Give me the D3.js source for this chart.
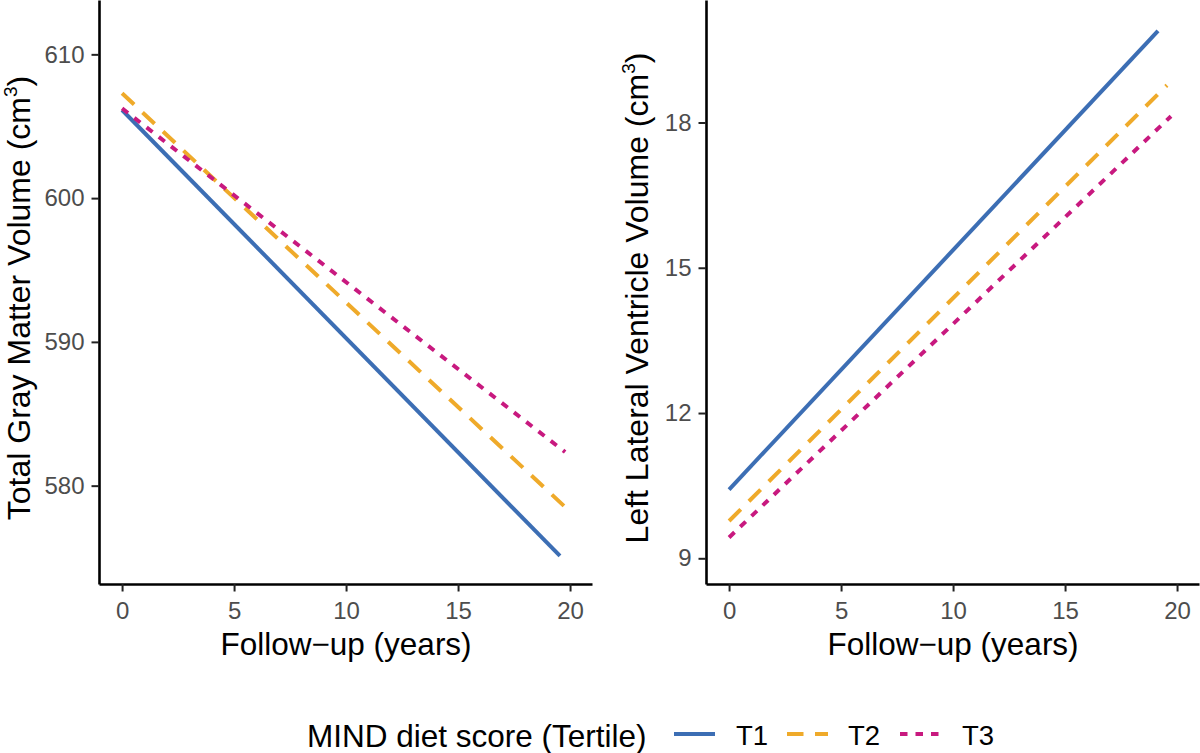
<!DOCTYPE html>
<html>
<head>
<meta charset="utf-8">
<script src="https://cdn.jsdelivr.net/npm/d3@7"></script>
<style>
  body { margin: 0; background: #fff; }
  text { font-family: "Liberation Sans", Arial, sans-serif; }
</style>
</head>
<body>
<div id="viz-container"></div>
<script>
// values
const tertiles = ['T1', 'T2', 'T3'];
const tertileColors = ['#3C6EB4', '#EFAA2A', '#C8197F'];
const tertileDash = ['none', '16.5,11.5', '7.5,8'];

const followStart = [0, 0, 0];
const gmFollowEnd = [19.55, 19.73, 19.78];
const gmStart = [606.13, 607.29, 606.24];
const gmEnd = [575.11, 578.59, 582.34];

const lvFollowEnd = [19.15, 19.55, 19.73];
const lvStart = [10.42, 9.77, 9.43];
const lvEnd = [19.89, 18.77, 18.13];

const xTicks = [0, 5, 10, 15, 20];
const gmTicks = [580, 590, 600, 610];
const lvTicks = [9, 12, 15, 18];

let viz = d3.select('#viz-container')
  .append('svg')
    .attr('width', 1200)
    .attr('height', 753)
;

function series(ends, starts, finishes){
  return tertiles.map((t, i) => ({
    name: t,
    color: tertileColors[i],
    dash: tertileDash[i],
    points: [[followStart[i], starts[i]], [ends[i], finishes[i]]]
  }));
}

function panel(left, yDomain, yTicks, data, titleX, titleMain){
  let x = d3.scaleLinear().domain([-1.03, 20.98]).range([left, left + 493]);
  let y = d3.scaleLinear().domain(yDomain).range([584, 0]);

  let g = viz.append('g');

  let yAxis = g.append('g')
    .attr('transform', 'translate(' + left + ',0)')
    .call(d3.axisLeft(y).tickValues(yTicks).tickSize(7.5).tickSizeOuter(0).tickPadding(7));
  let xAxis = g.append('g')
    .attr('transform', 'translate(0,584)')
    .call(d3.axisBottom(x).tickValues(xTicks).tickSize(7.5).tickSizeOuter(0).tickPadding(10));

  [yAxis, xAxis].forEach(a => {
    a.select('.domain').attr('stroke', '#000').attr('stroke-width', 2.6);
    a.selectAll('.tick line').attr('stroke', '#222').attr('stroke-width', 2);
    a.selectAll('.tick text')
      .attr('fill', '#4D4D4D')
      .attr('font-size', 24)
      .attr('font-family', '"Liberation Sans", Arial, sans-serif');
  });

  let line = d3.line().x(d => x(d[0])).y(d => y(d[1]));
  g.selectAll('path.trend').data(data).enter()
    .append('path')
      .attr('class', 'trend')
      .attr('d', d => line(d.points))
      .attr('fill', 'none')
      .attr('stroke', d => d.color)
      .attr('stroke-width', 4)
      .attr('stroke-dasharray', d => d.dash)
  ;

  // x title
  g.append('text')
    .attr('x', left + 247)
    .attr('y', 655)
    .attr('text-anchor', 'middle')
    .attr('font-size', 31.5)
    .text('Follow\u2212up (years)');

  // y title with superscript
  let yt = g.append('text')
    .attr('transform', 'translate(' + titleX + ',298) rotate(-90)')
    .attr('text-anchor', 'middle')
    .attr('font-size', 32);
  yt.append('tspan').text(titleMain + ' (cm');
  yt.append('tspan').attr('font-size', 19).attr('dy', -13).text('3');
  yt.append('tspan').attr('dy', 13).text(')');
}

panel(99, [573.16, 613.78], gmTicks, series(gmFollowEnd, gmStart, gmEnd), 30, 'Total Gray Matter Volume');
panel(706, [8.469, 20.53], lvTicks, series(lvFollowEnd, lvStart, lvEnd), 648, 'Left Lateral Ventricle Volume');

// legend
let legend = viz.append('g');
legend.append('text')
  .attr('x', 307)
  .attr('y', 747)
  .attr('font-size', 31.5)
  .text('MIND diet score (Tertile)');

const keyX = [674, 787, 900];
const labelX = [736, 848, 962];
tertiles.forEach((t, i) => {
  legend.append('line')
    .attr('x1', keyX[i]).attr('x2', keyX[i] + 41)
    .attr('y1', 734).attr('y2', 734)
    .attr('stroke', tertileColors[i])
    .attr('stroke-width', 4)
    .attr('stroke-dasharray', tertileDash[i]);
  legend.append('text')
    .attr('x', labelX[i])
    .attr('y', 745)
    .attr('font-size', 27.5)
    .text(t);
});
</script>
</body>
</html>
